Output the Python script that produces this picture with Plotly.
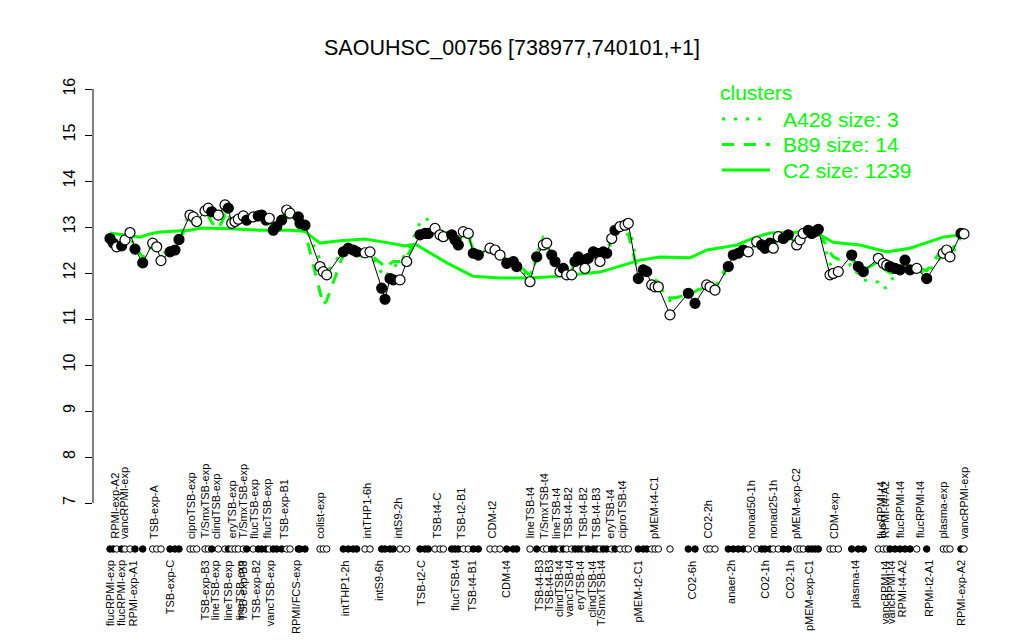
import plotly.graph_objects as go

title_text = "SAOUHSC_00756 [738977,740101,+1]"
GREEN = "#00ff00"
FONT = "Liberation Sans, Arial, Helvetica, sans-serif"

# sample positions along the x axis (group gaps included)
sample_pos = [
    110.0, 113.3, 116.7, 121.7, 125.0, 130.0, 135.0, 142.7, 152.7, 156.7, 161.0, 170.0, 175.0, 179.0,
    190.0, 193.3, 196.7, 205.0, 208.3, 211.7, 218.3, 225.0, 228.3, 231.7, 235.0, 238.3, 243.3, 246.7,
    253.3, 258.3, 261.7, 266.0, 269.3, 273.3, 276.7, 281.7, 286.7, 290.0, 298.3, 300.0, 305.0,
    320.0, 323.3, 326.7,
    343.3, 348.3, 353.3, 356.7, 365.0, 370.0,
    381.7, 385.0, 390.0, 393.3, 400.0, 406.7,
    420.0, 425.0, 428.3, 435.0, 440.0, 443.3,
    451.7, 455.0, 458.3, 463.3, 468.3, 473.3, 478.3,
    490.0, 495.0, 500.0, 506.7, 513.3, 516.7,
    530.0, 536.7, 543.3, 546.7, 551.7, 555.0, 560.0, 563.3, 566.7, 571.7, 575.0, 578.3, 581.7, 585.0,
    588.3, 593.3, 596.7, 600.0, 603.3, 606.7, 611.7, 615.0, 620.0, 625.0, 628.3,
    638.3, 643.3, 646.7, 651.7, 655.0, 658.3,
    670.0, 688.3, 695.0, 706.7, 710.0, 715.0,
    728.3, 733.3, 738.3, 743.3, 748.3, 756.7, 761.7, 765.0, 770.0, 773.3, 778.3, 783.3, 788.3, 796.7,
    800.0, 803.3, 808.3, 811.7, 815.0, 818.3,
    830.0, 833.3, 838.3,
    851.7, 858.3, 863.3,
    878.3, 883.3, 886.7, 890.0, 895.0, 900.0, 905.0, 910.0, 916.7,
    926.7,
    943.3, 946.7, 950.0,
    961.0, 964.0,
]

# expression of this gene per sample
expr = [
    12.75, 12.65, 12.57, 12.59, 12.72, 12.88, 12.52, 12.22, 12.65, 12.57, 12.27, 12.46, 12.50, 12.73,
    13.26, 13.22, 13.12, 13.35, 13.41, 13.33, 13.26, 13.48, 13.41, 13.08, 13.12, 13.17, 13.24, 13.15,
    13.22, 13.24, 13.26, 13.15, 13.19, 12.93, 13.01, 13.15, 13.37, 13.30, 13.22, 13.08, 13.04,
    12.14, 12.03, 11.96,
    12.46, 12.54, 12.50, 12.46, 12.44, 12.46,
    11.67, 11.43, 11.88, 11.85, 11.85, 12.25,
    12.83, 12.86, 12.86, 12.97, 12.83, 12.79,
    12.83, 12.72, 12.61, 12.90, 12.86, 12.43, 12.39,
    12.54, 12.50, 12.39, 12.21, 12.25, 12.14,
    11.81, 12.35, 12.61, 12.65, 12.39, 12.25, 12.03, 12.10, 11.96, 11.96, 12.25, 12.35, 12.28, 12.10,
    12.32, 12.46, 12.43, 12.25, 12.46, 12.43, 12.75, 12.93, 13.01, 13.04, 13.08,
    11.88, 12.07, 12.03, 11.74, 11.70, 11.70,
    11.09, 11.56, 11.34, 11.74, 11.70, 11.63,
    12.14, 12.39, 12.43, 12.50, 12.46, 12.68, 12.61, 12.54, 12.65, 12.54, 12.79, 12.75, 12.83, 12.61,
    12.72, 12.86, 12.93, 12.86, 12.90, 12.95,
    11.96, 11.99, 12.03,
    12.39, 12.14, 12.03,
    12.32, 12.21, 12.17, 12.14, 12.10, 12.07, 12.28, 12.07, 12.10,
    11.88,
    12.43, 12.50, 12.35,
    12.86, 12.85,
]

# 1 = filled marker, 0 = open marker
filled = [
    1, 1, 0, 1, 0, 0, 1, 1, 0, 0, 0, 1, 1, 1,
    0, 0, 0, 0, 0, 1, 0, 0, 1, 0, 0, 0, 0, 1, 0, 1, 1, 1, 0, 1, 1, 1, 0, 0, 1, 1, 1,
    0, 0, 0,
    1, 1, 1, 1, 0, 0,
    1, 1, 1, 1, 0, 0,
    1, 1, 1, 0, 0, 0,
    1, 1, 1, 0, 0, 1, 1,
    0, 0, 0, 1, 1, 1,
    0, 1, 0, 0, 1, 1, 0, 1, 0, 0, 1, 1, 1, 0, 1, 1, 1, 0, 1, 1, 0, 1, 0, 0, 0,
    1, 1, 1, 0, 0, 0,
    0, 1, 1, 0, 0, 0,
    1, 1, 1, 1, 0, 0, 1, 1, 1, 0, 0, 1, 1, 0, 0, 0, 1, 1, 1, 1,
    0, 0, 0,
    1, 1, 1,
    0, 0, 0, 1, 1, 1, 1, 1, 0,
    1,
    0, 0, 0,
    1, 0,
]

# cluster B89 mean profile (dashed)
b89 = [
    12.70, 12.62, 12.55, 12.62, 12.75, 12.85, 12.55, 12.35, 12.62, 12.55, 12.40, 12.50, 12.55, 12.72,
    13.15, 13.10, 13.05, 13.20, 13.25, 13.10, 12.95, 13.25, 13.15, 13.00, 13.05, 13.10, 13.15, 13.10,
    13.15, 13.15, 13.20, 13.10, 13.10, 12.95, 13.00, 13.10, 13.25, 13.15, 13.00, 12.95, 12.90,
    11.55, 11.30, 11.40,
    12.40, 12.50, 12.45, 12.40, 12.35, 12.40,
    12.20, 12.10, 12.20, 12.25, 12.25, 12.35,
    12.85, 12.90, 12.90, 12.95, 12.85, 12.80,
    12.80, 12.75, 12.65, 12.85, 12.80, 12.50, 12.45,
    12.50, 12.45, 12.38, 12.30, 12.25, 12.20,
    11.95, 12.30, 12.55, 12.60, 12.40, 12.30, 12.10, 12.15, 12.05, 12.05, 12.30, 12.35, 12.30, 12.20,
    12.35, 12.45, 12.40, 12.35, 12.45, 12.40, 12.70, 12.75, 12.80, 12.80, 12.85,
    12.00, 12.10, 12.05, 11.90, 11.85, 11.80,
    11.45, 11.50, 11.60, 11.75, 11.72, 11.70,
    12.20, 12.35, 12.42, 12.48, 12.45, 12.62, 12.58, 12.55, 12.62, 12.55, 12.75, 12.72, 12.80, 12.65,
    12.72, 12.85, 12.90, 12.85, 12.88, 12.92,
    12.45, 12.35, 12.30,
    12.30, 12.15, 12.05,
    12.25, 12.10, 12.05, 12.00, 12.02, 12.05, 12.20, 12.10, 12.12,
    12.05,
    12.55, 12.60, 12.45,
    12.80, 12.85,
]

# cluster A428 mean profile (dotted)
a428 = [
    12.80, 12.60, 12.50, 12.55, 12.70, 12.90, 12.45, 12.30, 12.70, 12.60, 12.35, 12.45, 12.55, 12.80,
    13.30, 13.20, 13.10, 13.40, 13.35, 13.30, 13.20, 13.40, 13.30, 13.05, 13.10, 13.20, 13.20, 13.10,
    13.20, 13.25, 13.30, 13.20, 13.15, 12.95, 13.05, 13.20, 13.30, 13.25, 13.15, 13.05, 13.00,
    12.30, 12.10, 12.00,
    12.50, 12.55, 12.50, 12.45, 12.40, 12.42,
    12.00, 11.90, 12.05, 12.10, 12.30, 12.40,
    13.10, 13.20, 13.15, 13.05, 12.95, 12.90,
    12.85, 12.70, 12.60, 12.95, 12.90, 12.40, 12.35,
    12.55, 12.50, 12.40, 12.20, 12.25, 12.15,
    11.90, 12.40, 12.78, 12.75, 12.40, 12.20, 12.00, 12.10, 12.00, 12.00, 12.30, 12.40, 12.30, 12.15,
    12.35, 12.50, 12.45, 12.30, 12.50, 12.45, 12.80, 12.95, 13.05, 13.10, 13.10,
    12.05, 12.15, 12.10, 11.85, 11.80, 11.75,
    11.40, 11.55, 11.50, 11.80, 11.75, 11.68,
    12.10, 12.40, 12.45, 12.50, 12.50, 12.70, 12.65, 12.55, 12.70, 12.58, 12.82, 12.78, 12.85, 12.65,
    12.75, 12.88, 12.95, 12.90, 12.92, 12.98,
    12.20, 12.10, 12.05,
    12.20, 11.95, 11.85,
    11.80, 11.65, 11.70, 11.85, 11.90, 11.95, 12.10, 12.00, 12.05,
    12.00,
    12.40, 12.55, 12.30,
    12.80, 12.78,
]

# cluster C2 mean profile (solid)
c2_pos = [110, 140, 150, 160, 190, 200, 230, 260, 290, 305, 312, 320, 340, 365, 390, 405, 415, 425,
          447, 473, 500, 530, 560, 580, 600, 620, 640, 660, 690, 707, 737, 753, 770, 807, 820, 833,
          860, 887, 910, 943, 963]
c2_val = [12.87, 12.78, 12.85, 12.89, 12.93, 12.98, 12.96, 12.93, 12.93, 12.91, 12.78, 12.65, 12.70,
          12.74, 12.65, 12.59, 12.63, 12.50, 12.22, 11.93, 11.89, 11.89, 11.93, 11.98, 12.02, 12.15,
          12.28, 12.35, 12.33, 12.50, 12.61, 12.76, 12.87, 12.89, 12.83, 12.67, 12.61, 12.46, 12.54,
          12.78, 12.83]

top_labels = ["RPMI-exp-A2", "vancRPMI-exp", "TSB-exp-A", "ciproTSB-exp", "T/SmxTSB-exp", "clindTSB-exp",
              "eryTSB-exp", "T/SmxTSB-exp", "flucTSB-exp", "flucTSB-exp", "TSB-exp-B1", "colist-exp",
              "intTHP1-6h", "intS9-2h", "TSB-t4-C", "TSB-t2-B1", "CDM-t2", "lineTSB-t4", "T/SmxTSB-t4",
              "lineTSB-t4", "TSB-t4-B2", "TSB-t4-B2", "TSB-t4-B3", "eryTSB-t4", "ciproTSB-t4",
              "pMEM-t4-C1", "CO2-2h", "nonad50-1h", "nonad25-1h", "pMEM-exp-C2", "CDM-exp",
              "flucRPMI-t4", "RPMI-t4-A2", "flucRPMI-t4", "flucRPMI-t4", "plasma-exp", "vancRPMI-exp"]
top_pos = [115, 123.3, 153.3, 191.7, 205, 216.7, 231.7, 243.3, 253.3, 266.7, 283.3, 320, 366.7, 398.3,
           436.7, 461.7, 491.7, 530, 543.3, 556.7, 568.3, 583.3, 596.7, 610, 621.7, 653.3, 708.3, 751.7,
           773.3, 796.7, 833.3, 881.7, 885, 900, 920, 943.3, 963.3]

bottom_labels = ["flucRPMI-exp", "flucRPMI-exp", "RPMI-exp-A1", "TSB-exp-C", "TSB-exp-B3", "lineTSB-exp",
                 "lineTSB-exp", "lineTSB-exp", "TSB-exp-B3", "TSB-exp-B2", "vancTSB-exp", "RPMI/FCS-exp",
                 "intTHP1-2h", "intS9-6h", "TSB-t2-C", "flucTSB-t4", "TSB-t4-B1", "CDM-t4", "TSB-t4-B3",
                 "TSB-t4-B3", "clindTSB-t4", "vancTSB-t4", "eryTSB-t4", "clindTSB-t4", "T/SmxTSB-t4",
                 "pMEM-t2-C1", "CO2-6h", "anaer-2h", "CO2-1h", "CO2-1h", "pMEM-exp-C1", "plasma-t4",
                 "vancRPMI-t4", "vancRPMI-t4", "RPMI-t4-A2", "RPMI-t2-A1", "RPMI-exp-A2"]
bottom_pos = [110, 121.7, 133.3, 170, 205, 215, 228.3, 240, 243.3, 256.7, 270, 296.7, 345, 378.3, 421.7,
              455, 471.7, 506.7, 538.3, 548.3, 558.3, 568.3, 580, 591.7, 601.7, 638.3, 691.7, 731.7, 765,
              790, 808.3, 855, 885, 891.7, 901.7, 928.3, 961.7]

legend_names = ["A428 size: 3", "B89 size: 14", "C2 size: 1239"]
legend_dash = ["3px,9px", "12px,10px", "solid"]

y_ticks = list(range(7, 17))
rug_level = 6.0
Y_RANGE = [5.761, 16.196]
X_RANGE = [93, 970]

fig = go.Figure()

fig.add_trace(go.Scatter(x=c2_pos, y=c2_val, mode="lines",
                         line=dict(color=GREEN, width=3), hoverinfo="skip", showlegend=False))
fig.add_trace(go.Scatter(x=sample_pos, y=b89, mode="lines",
                         line=dict(color=GREEN, width=3, dash=legend_dash[1]), hoverinfo="skip", showlegend=False))
fig.add_trace(go.Scatter(x=sample_pos, y=a428, mode="lines",
                         line=dict(color=GREEN, width=3, dash=legend_dash[0]), hoverinfo="skip", showlegend=False))

fills = ["black" if f else "white" for f in filled]
fig.add_trace(go.Scatter(x=sample_pos, y=expr, mode="lines+markers",
                         line=dict(color="black", width=1),
                         marker=dict(size=10, color=fills, line=dict(color="black", width=1.2)),
                         showlegend=False))
fig.add_trace(go.Scatter(x=sample_pos, y=[rug_level] * len(sample_pos), mode="markers",
                         marker=dict(size=6.5, color=fills, line=dict(color="black", width=1)),
                         showlegend=False, cliponaxis=False))

annotations = []
for lab, p in zip(top_labels, top_pos):
    annotations.append(dict(x=p, y=6.18, xref="x", yref="y", text=lab, showarrow=False, textangle=-90,
                            xanchor="center", yanchor="bottom", font=dict(family=FONT, size=11, color="black")))
for lab, p in zip(bottom_labels, bottom_pos):
    annotations.append(dict(x=p, y=5.80, xref="x", yref="y", text=lab, showarrow=False, textangle=-90,
                            xanchor="center", yanchor="top", font=dict(family=FONT, size=11, color="black")))

# legend (manual, R style)
def px2paper_x(px):
    return (px - 93) / 877.0

def px2paper_y(py):
    return (560 - py) / 480.0

annotations.append(dict(x=px2paper_x(718), y=px2paper_y(92), xref="paper", yref="paper", text="clusters",
                        showarrow=False, xanchor="left", yanchor="middle",
                        font=dict(family=FONT, size=21, color=GREEN)))
shapes = [dict(type="line", xref="paper", yref="y", x0=0, x1=0, y0=min(y_ticks), y1=max(y_ticks),
               line=dict(color="black", width=1))]
for i, (name, dash) in enumerate(zip(legend_names, legend_dash)):
    yy = px2paper_y(119 + 25.5 * i)
    shapes.append(dict(type="line", xref="paper", yref="paper", x0=px2paper_x(722), x1=px2paper_x(770),
                       y0=yy, y1=yy, line=dict(color=GREEN, width=3, dash=dash)))
    annotations.append(dict(x=px2paper_x(781), y=yy, xref="paper", yref="paper", text=name, showarrow=False,
                            xanchor="left", yanchor="middle", font=dict(family=FONT, size=21, color=GREEN)))

fig.update_layout(
    width=1024, height=640,
    margin=dict(l=93, r=54, t=80, b=80),
    paper_bgcolor="white", plot_bgcolor="white",
    title=dict(text=title_text, x=0.5, xref="container", xanchor="center",
               y=1 - 47 / 640, yref="container", yanchor="middle",
               font=dict(family=FONT, size=21.5, color="black")),
    xaxis=dict(range=X_RANGE, visible=False, showgrid=False, zeroline=False),
    yaxis=dict(range=Y_RANGE, tickvals=y_ticks, ticks="outside", ticklen=7, tickwidth=1, tickcolor="black",
               showgrid=False, zeroline=False, showline=False, tickangle=-90, ticklabelstandoff=4,
               tickfont=dict(family=FONT, size=16, color="black")),
    annotations=annotations,
    shapes=shapes,
    showlegend=False,
)

fig.write_html("out.html", config={"displayModeBar": False},
               post_script="document.body.style.margin='0px';document.body.style.overflow='hidden';")
